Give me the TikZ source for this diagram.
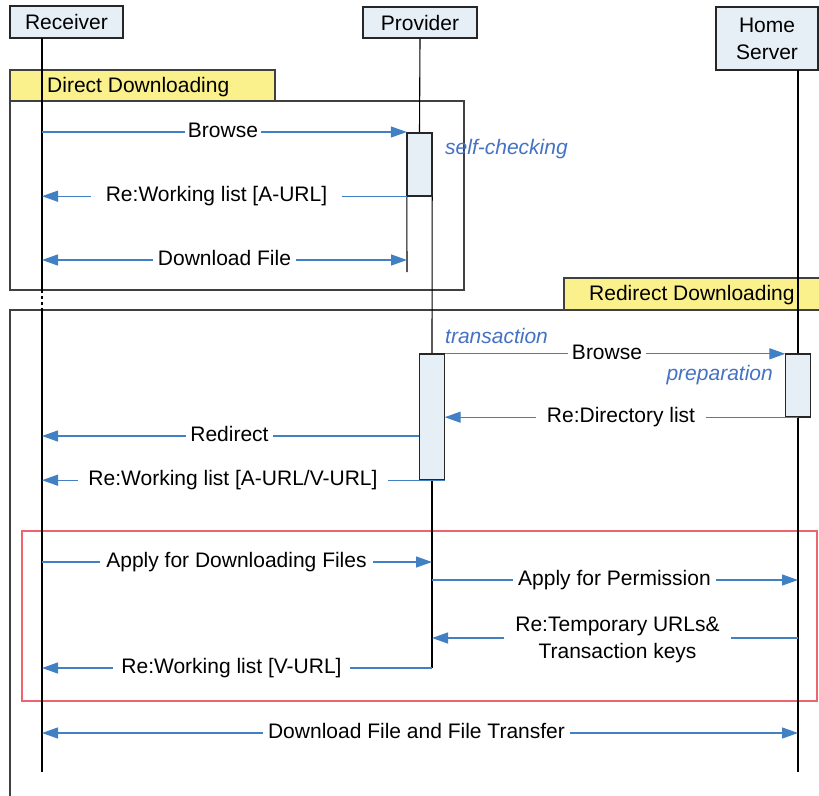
\documentclass[tikz,border=0pt]{standalone}
\usepackage{fontspec}
\setmainfont{Liberation Sans}
\usetikzlibrary{arrows.meta}

\definecolor{msgblue}{RGB}{66,128,196}
\definecolor{noteblue}{RGB}{68,114,196}
\definecolor{boxfill}{RGB}{230,238,246}
\definecolor{tabyellow}{RGB}{250,240,140}
\definecolor{framegray}{RGB}{64,64,64}
\definecolor{boxred}{RGB}{238,100,108}

\begin{document}
\begin{tikzpicture}[x=1pt,y=-1pt,
  font=\fontsize{21}{27}\selectfont,
  head/.style={draw=black!85, line width=1.2pt, fill=boxfill, inner sep=0pt, align=center},
  life/.style={draw=black, line width=1.1pt},
  act/.style={draw=black!85, line width=1.2pt, fill=boxfill, minimum width=25pt, inner sep=0pt},
  frm/.style={draw=framegray, line width=1.3pt},
  tabbox/.style={draw=framegray, line width=1.3pt, fill=tabyellow},
  tip/.tip={Triangle[length=16pt,width=11pt]},
  msgline/.style={draw=msgblue, line width=1.3pt},
  msg/.style={msgline, -tip},
  dmsg/.style={msgline, tip-tip},
  lbl/.style={fill=white, inner ysep=2pt, inner xsep=#1, text height=15pt, text depth=4.5pt},
  lbl/.default=5pt,
  note/.style={text=noteblue, font=\fontsize{21}{27}\selectfont\itshape, inner sep=0pt, text height=15pt, text depth=4.5pt},
  tabtext/.style={inner sep=0pt, text height=15pt, text depth=4.5pt},
]
\useasboundingbox (0,0) rectangle (819,795);
\clip (0,0) rectangle (819,795);

% combined fragments
\draw[frm] (10,101) rectangle (464,290);
\draw[tabbox] (10,70) rectangle (275,101);
\node[tabtext, anchor=west] (tabA) at (47,87.5) {Direct Downloading};
\draw[frm] (10,310) rectangle (840,830);
\draw[tabbox] (564,278) rectangle (840,310);
\node[tabtext, anchor=west] (tabB) at (589,295.5) {Redirect Downloading};
\draw[draw=boxred, line width=1.2pt] (22,531) rectangle (817,701);

% participants
\node[head, minimum width=113pt, minimum height=32pt] (recv) at (66.5,22) {Receiver};
\node[head, minimum width=114pt, minimum height=31pt] (prov) at (420,22.5) {Provider};
\node[head, minimum width=102pt, minimum height=63pt] (home) at (767,38.5) {Home\\Server};

% lifeline anchors
\coordinate (rtop) at (42,38);
\coordinate (rbrk1) at (42,290);
\coordinate (rbrk2) at (42,310);
\coordinate (rend) at (42,772);
\coordinate (htop) at (798,70);
\coordinate (hend) at (798,772);
\coordinate (dl) at (407,272);

% activation bars (positions only, drawn later)
\path (419.5,164.5) node[minimum width=25pt, minimum height=63pt, inner sep=0pt] (a1) {};
\path (432,417) node[minimum width=25pt, minimum height=126pt, inner sep=0pt] (a2) {};
\path (798,385.5) node[minimum width=25pt, minimum height=63pt, inner sep=0pt] (a3) {};
\coordinate (pend) at (432,668);

% lifelines
\draw[life] (rtop) -- (rbrk1);
\draw[life, dash pattern=on 3pt off 3pt] (rbrk1) -- (rbrk2);
\draw[life] (rbrk2) -- (rend);
\draw[life] (prov.south) -- (a1.north);
\draw[life] (a1.south east) -- (a2.north);
\draw[life] (a1.south west) -- (dl);
\draw[life] (a2.south) -- (pend);
\draw[life] (htop) -- (hend);

% activation bars
\node[act, minimum height=63pt] at (a1) {};
\node[act, minimum height=126pt] at (a2) {};
\node[act, minimum height=63pt] at (a3) {};

% direct downloading messages
\draw[msg] (rtop |- 0,132) -- (a1.west |- 0,132);
\node[lbl=3pt] (m1) at (223,132) {Browse};
\draw[msg] (a1.south west) -- (rtop |- a1.south);
\node[lbl=15pt] (m2) at (216.5,196) {Re:Working list [A-URL]};
\draw[dmsg] (rtop |- 0,260) -- (dl |- 0,260);
\node[lbl=5pt] (m3) at (224.5,260) {Download File};
\node[note, anchor=west] (n1) at (445,149.5) {self-checking};

% redirect downloading messages
\node[note, anchor=west] (n2) at (445,338.5) {transaction};
\draw[msg] (a2.north east) -- (a3.north west);
\node[lbl=4pt] (m4) at (607,354) {Browse};
\node[note, anchor=east] (n3) at (773,375.5) {preparation};
\draw[msg] (a3.south) -- (a2.east |- a3.south);
\node[lbl=11pt] (m5) at (621,417) {Re:Directory list};
\draw[msg] (a2.west |- 0,436) -- (rtop |- 0,436);
\node[lbl=4pt] (m6) at (229.5,436) {Redirect};
\draw[msg] (a2.south east) -- (rtop |- a2.south);
\node[lbl=10pt] (m7) at (233,480) {Re:Working list [A-URL/V-URL]};

\draw[msg] (rtop |- 0,562) -- (pend |- 0,562);
\node[lbl=6pt] (m8) at (236.5,562) {Apply for Downloading Files};
\draw[msg] (pend |- 0,580) -- (htop |- 0,580);
\node[lbl=5pt] (m9) at (614.5,580) {Apply for Permission};
\draw[msg] (htop |- 0,638) -- (pend |- 0,638);
\node[fill=white, inner ysep=2pt, inner xsep=11pt, align=center] (m10) at (617.5,639.5) {Re:Temporary URLs\&\\Transaction keys};
\draw[msg] (pend) -- (rtop |- pend);
\node[lbl=8pt] (m11) at (231.5,668) {Re:Working list [V-URL]};

\draw[dmsg] (rtop |- 0,733) -- (htop |- 0,733);
\node[lbl=5pt] (m12) at (416.5,733) {Download File and File Transfer};
\end{tikzpicture}
\end{document}
